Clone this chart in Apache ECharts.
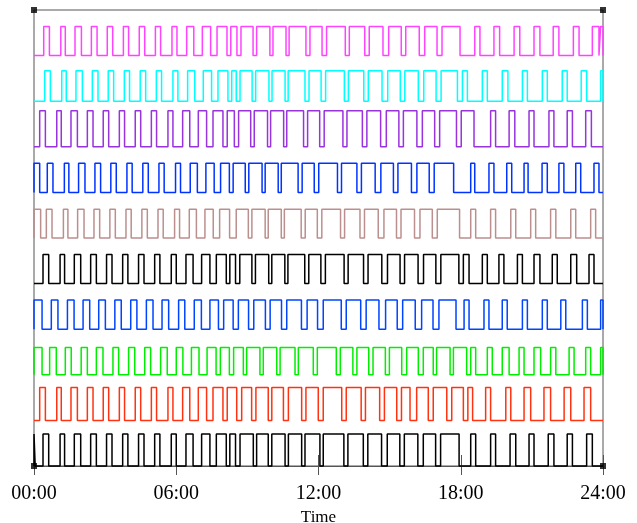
<!DOCTYPE html>
<html>
<head>
<meta charset="utf-8">
<script src="https://cdn.jsdelivr.net/npm/echarts@6/dist/echarts.min.js"></script>
<style>
  html, body { margin: 0; padding: 0; background: #fff; }
  #main { width: 637px; height: 523px; }
</style>
</head>
<body>
<div id="main"></div>
<script>
// each channel: list of [rise, fall] times in hours, top channel first
const ch1 = [[0.41,0.65],[1.13,1.32],[1.73,2.00],[2.42,2.66],[3.09,3.32],[3.77,3.99],[4.44,4.67],[5.12,5.34],[5.82,6.03],[6.44,6.74],[7.10,7.45],[7.72,8.14],[8.30,8.56],
  [8.73,9.24],[9.39,9.95],[10.08,10.63],[10.76,11.47],[11.64,12.15],
  [12.34,13.13],[13.30,13.95],[14.14,14.72],[14.96,15.49],[15.68,16.25],[16.48,17.00],[17.21,17.97],
  [18.59,18.81],[19.40,19.64],[20.25,20.49],[21.09,21.34],[21.90,22.14],[22.75,22.99],[23.55,23.83],[23.90,24]];
const ch2 = [[0.45,0.69],[1.17,1.36],[1.77,2.04],[2.46,2.70],[3.13,3.36],[3.81,4.03],[4.48,4.71],[5.16,5.38],[5.86,6.07],[6.48,6.78],[7.14,7.49],[7.76,8.18],[8.34,8.53],
  [8.69,9.20],[9.35,9.91],[10.04,10.59],[10.72,11.43],[11.60,12.11],
  [12.30,13.09],[13.26,13.91],[14.10,14.68],[14.92,15.45],[15.64,16.21],[16.44,16.96],[17.17,17.86],[18.07,18.28],
  [18.91,19.12],[19.75,19.99],[20.60,20.81],[21.44,21.65],[22.28,22.49],[23.08,23.31],[23.90,24]];
const ch3 = [[0.24,0.48],[0.96,1.15],[1.56,1.83],[2.25,2.49],[2.92,3.15],[3.60,3.82],[4.27,4.50],[4.95,5.17],[5.65,5.86],[6.27,6.57],[6.93,7.28],[7.55,7.97],[8.15,8.45],
  [8.63,9.14],[9.29,9.85],[9.98,10.53],[10.66,11.37],[11.54,12.05],
  [12.24,13.03],[13.20,13.85],[14.04,14.62],[14.86,15.39],[15.58,16.15],[16.38,16.90],[17.11,17.82],[18.02,18.56],
  [19.26,19.47],[20.04,20.28],[20.88,21.09],[21.72,21.93],[22.49,22.71],[23.27,23.51]];
const ch4 = [[0,0.24],[0.56,0.80],[1.28,1.47],[1.88,2.15],[2.57,2.81],[3.24,3.47],[3.92,4.14],[4.59,4.82],[5.27,5.49],[5.97,6.18],[6.59,6.89],[7.25,7.60],[7.87,8.24],
  [8.40,8.91],[9.06,9.62],[9.75,10.30],[10.43,11.14],[11.31,11.82],
  [12.01,12.80],[12.97,13.62],[13.81,14.39],[14.63,15.16],[15.35,15.92],[16.15,16.67],[16.88,17.70],
  [18.42,18.59],[19.19,19.40],[19.94,20.15],[20.67,20.84],[21.43,21.65],[22.14,22.35],[22.85,23.06],[23.62,23.83]];
const ch5 = [[0,0.28],[0.52,0.76],[1.24,1.43],[1.84,2.11],[2.53,2.77],[3.20,3.43],[3.88,4.10],[4.55,4.78],[5.23,5.45],[5.93,6.14],[6.55,6.85],[7.21,7.56],[7.83,8.25],
  [8.53,9.04],[9.19,9.75],[9.88,10.43],[10.56,11.27],[11.44,11.95],
  [12.14,12.93],[13.10,13.75],[13.94,14.52],[14.76,15.29],[15.48,16.05],[16.28,16.80],[17.01,17.95],
  [18.42,18.63],[19.26,19.47],[20.11,20.32],[20.95,21.16],[21.79,22.01],[22.64,22.85],[23.48,23.69]];
const ch6 = [[0.38,0.62],[1.10,1.29],[1.70,1.97],[2.39,2.63],[3.06,3.29],[3.74,3.96],[4.41,4.64],[5.09,5.31],[5.79,6.00],[6.41,6.71],[7.07,7.42],[7.69,8.11],[8.26,8.50],
  [8.68,9.19],[9.34,9.90],[10.03,10.58],[10.71,11.42],[11.59,12.10],
  [12.29,13.08],[13.25,13.90],[14.09,14.67],[14.91,15.44],[15.63,16.20],[16.43,16.95],[17.16,17.92],[18.11,18.35],
  [18.91,19.12],[19.61,19.82],[20.39,20.60],[21.09,21.34],[21.86,22.07],[22.64,22.89],[23.41,23.62]];
const ch7 = [[0,0.34],[0.73,1.01],[1.41,1.69],[2.07,2.35],[2.73,3.01],[3.41,3.68],[4.08,4.34],[4.74,5.02],[5.40,5.68],[6.10,6.36],[6.76,7.06],[7.42,7.78],[8.00,8.40],
  [8.62,9.05],[9.27,9.76],[9.96,10.44],[10.66,11.28],[11.52,11.96],
  [12.20,12.96],[13.17,13.78],[14.01,14.55],[14.83,15.32],[15.55,16.08],[16.35,16.83],[17.08,17.80],
  [18.14,18.35],[18.98,19.19],[19.75,19.96],[20.60,20.81],[21.44,21.65],[22.22,22.43],[23.13,23.34],[23.90,24]];
const ch8 = [[0,0.34],[0.66,0.94],[1.32,1.57],[1.99,2.25],[2.63,2.91],[3.33,3.57],[3.99,4.25],[4.67,4.92],[5.34,5.62],[6.00,6.28],[6.64,6.96],[7.30,7.68],[7.86,8.24],
  [8.42,8.83],[8.97,9.53],[9.67,10.24],[10.38,11.01],[11.15,11.78],
  [11.95,12.75],[12.92,13.45],[13.62,14.12],[14.30,14.82],[14.99,15.51],[15.72,16.21],[16.42,16.84],[16.98,17.55],[17.69,18.25],
  [18.42,18.63],[19.12,19.33],[19.75,20.04],[20.46,20.67],[21.09,21.37],[21.79,22.01],[22.57,22.78],[23.27,23.48],[23.90,24]];
const ch9 = [[0.24,0.48],[0.96,1.15],[1.56,1.83],[2.25,2.49],[2.92,3.15],[3.60,3.82],[4.27,4.50],[4.95,5.17],[5.65,5.86],[6.27,6.57],[6.93,7.28],[7.55,7.97],[8.15,8.55],
  [8.76,9.18],[9.36,9.88],[10.03,10.52],[10.73,11.29],[11.47,11.99],
  [12.20,12.98],[13.17,13.80],[13.98,14.58],[14.78,15.30],[15.50,15.86],[16.14,16.63],[16.84,17.41],[17.62,18.11],[18.30,18.50],
  [19.05,19.26],[19.90,20.11],[20.67,20.95],[21.51,21.79],[22.36,22.64],[23.20,23.48]];
const ch10 = [[0,0.05],[0.38,0.62],[1.10,1.29],[1.70,1.97],[2.39,2.63],[3.06,3.29],[3.74,3.96],[4.41,4.64],[5.09,5.31],[5.79,6.00],[6.41,6.71],[7.07,7.42],[7.69,8.11],[8.26,8.50],
  [8.69,9.25],[9.39,9.88],[10.03,10.59],[10.73,11.29],[11.43,12.06],
  [12.20,13.07],[13.24,13.89],[14.08,14.66],[14.90,15.43],[15.62,16.19],[16.42,16.94],[17.15,17.93],
  [18.42,18.63],[19.26,19.47],[20.08,20.32],[20.88,21.09],[21.69,21.93],[22.49,22.71],[23.31,23.55]];

const channels = [ch1, ch2, ch3, ch4, ch5, ch6, ch7, ch8, ch9, ch10];
const colors = ['#ff44ff', '#00ffff', '#9933dd', '#0033ff', '#bc8f8f', '#000000', '#0044ff', '#00ee00', '#ff3311', '#000000'];
// height of the high level above each channel's baseline
const levels = [0.64, 0.67, 0.79, 0.64, 0.63, 0.64, 0.64, 0.60, 0.72, 0.70];
const tickLabels = ['00:00', '06:00', '12:00', '18:00', '24:00'];
const corners = [[0, 0], [0, 10], [24, 0], [24, 10]];

const chart = echarts.init(document.getElementById('main'), null, { renderer: 'canvas' });

const series = channels.map((pulses, i) => {
    const base = channels.length - 1 - i;
    const top = base + levels[i];
    const pts = [[0, base]];
    pulses.forEach(([r, f]) => {
        pts.push([r, base], [r, top], [f, top], [f, base]);
    });
    pts.push([24, base]);
    return {
        type: 'line',
        data: pts,
        symbol: 'none',
        clip: false,
        silent: true,
        lineStyle: { color: colors[i], width: 1.5 },
        itemStyle: { color: colors[i] }
    };
});

series.push({
    type: 'scatter',
    data: corners,
    symbol: 'rect',
    symbolSize: 6,
    clip: false,
    silent: true,
    z: 5,
    itemStyle: { color: '#000' }
});

const serif = 'Liberation Serif, Times New Roman, serif';

chart.setOption({
    animation: false,
    grid: {
        left: 34, right: 34, top: 10, bottom: 57,
        outerBoundsMode: 'none',
        show: true, borderColor: '#555', borderWidth: 1
    },
    xAxis: [{
        type: 'value', min: 0, max: 24, interval: 6,
        axisLine: { show: true, lineStyle: { color: '#555', width: 1 } },
        axisTick: { show: true, length: 9, lineStyle: { color: '#555' } },
        axisLabel: {
            formatter: (v) => tickLabels[Math.round(v / 6)],
            fontFamily: serif, fontSize: 20, color: '#000', margin: 18
        },
        splitLine: { show: false },
        name: 'Time', nameLocation: 'middle', nameGap: 39,
        nameTextStyle: { fontFamily: serif, fontSize: 17, color: '#000' }
    }, {
        type: 'value', min: 0, max: 24, interval: 6, position: 'bottom',
        axisLine: { show: false },
        axisTick: { show: true, inside: true, length: 11, lineStyle: { color: '#555' } },
        axisLabel: { show: false },
        splitLine: { show: false }
    }],
    yAxis: { type: 'value', min: 0, max: 10, show: false },
    series: series
});

window.addEventListener('resize', chart.resize);
</script>
</body>
</html>
